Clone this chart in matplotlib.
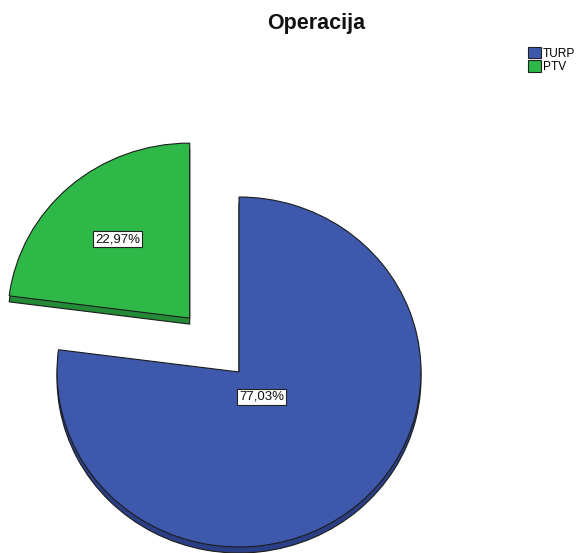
import matplotlib
matplotlib.use("Agg")
import matplotlib.pyplot as plt
from matplotlib.patches import Patch
import numpy as np

categories = ["TURP", "PTV"]
percent = [77.03, 22.97]
label_text = ["77,03%", "22,97%"]
face_colors = ["#3e58ac", "#2eb848"]
side_colors = ["#2a3f85", "#238a36"]
explode = [0.0, 0.41]
label_dist = [0.19, 0.60]

W, H = 580, 553
fig = plt.figure(figsize=(W / 100, H / 100), dpi=100)
ax = fig.add_axes([0, 0, 1, 1])

# pixel geometry of the pie (slightly flattened ellipse)
cx, cy = 239, 372          # centre, pixels from top-left
rx, ry = 182, 175          # pixels per unit radius
depth = 6 / ry

common = dict(startangle=90, counterclock=False, explode=explode,
              wedgeprops=dict(edgecolor="#1c1c1c", linewidth=0.8))
# side (depth) layer
ax.pie(percent, colors=side_colors, center=(0, -depth), frame=True, **common)
# top face
wedges, _ = ax.pie(percent, colors=face_colors, center=(0, 0), frame=True, **common)
ax.set_xlim(-cx / rx, (W - cx) / rx)
ax.set_ylim(-(H - cy) / ry, cy / ry)
ax.set_aspect("auto")
ax.set_axis_off()

# percentage labels in white boxes
for w, txt, d in zip(wedges, label_text, label_dist):
    mid = np.deg2rad((w.theta1 + w.theta2) / 2)
    x0, y0 = w.center
    ax.text(x0 + d * np.cos(mid), y0 + d * np.sin(mid), txt,
            ha="center", va="center", fontsize=9.5, family="Liberation Sans",
            color="#111111",
            bbox=dict(boxstyle="square,pad=0.16", fc="white", ec="#222222", lw=0.8))

fig.text(316 / W, 1 - 24 / H, "Operacija", ha="center", va="center",
         fontsize=15.5, fontweight="bold", family="Liberation Sans", color="#111111")

handles = [Patch(facecolor=c, edgecolor="#222222", linewidth=0.8) for c in face_colors]
fig.legend(handles, categories, loc="upper left", bbox_to_anchor=(522 / W, 1 - 41 / H),
           frameon=False, handlelength=1.1, handleheight=1.1,
           handletextpad=0.15, labelspacing=0.05, borderpad=0.0,
           prop=dict(family="Liberation Sans", size=8.6))

fig.savefig("out.png", dpi=100, facecolor="white")
